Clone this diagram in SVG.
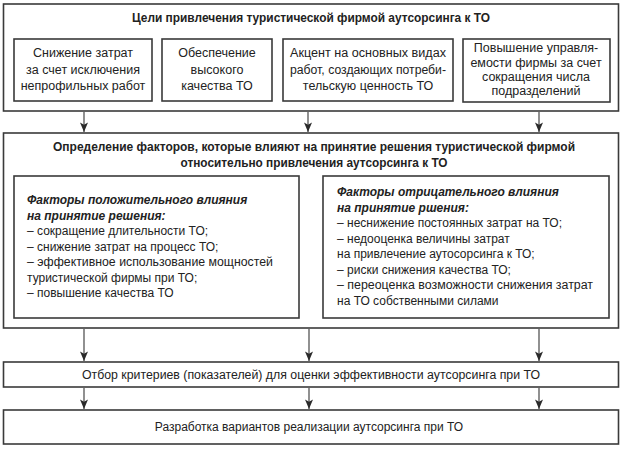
<svg xmlns="http://www.w3.org/2000/svg" width="624" height="451" viewBox="0 0 624 451">
<defs>
<marker id="ah" viewBox="0 0 12 10" refX="12" refY="5" markerWidth="11" markerHeight="8" markerUnits="userSpaceOnUse" orient="auto">
<path d="M0,0 L12,5 L0,10 L3,5 Z" fill="#2a2a2a"/>
</marker>
</defs>
<style>
.box{fill:#fff;stroke:#3a3a3a;stroke-width:1.6}
.t{font-family:"Liberation Sans",Arial,sans-serif;font-size:12px;fill:#222}
.m{font-size:12.5px}
.c{text-anchor:middle}
.b{font-weight:bold}
.i{font-weight:bold;font-style:italic}
.conn{stroke:#555;stroke-width:1.3;fill:none;marker-end:url(#ah)}
</style>
<rect width="624" height="451" fill="#fff"/>
<g id="goals">
<rect class="box" x="3.5" y="4" width="615" height="107"/>
<text class="t c b" x="311" y="22" textLength="358" lengthAdjust="spacingAndGlyphs">Цели привлечения туристической фирмой аутсорсинга к ТО</text>
</g>
<g id="goal1">
<rect class="box" x="14" y="39" width="138" height="62"/>
<text class="t m c" x="83" y="57">Снижение затрат</text>
<text class="t m c" x="83" y="74">за счет исключения</text>
<text class="t m c" x="83" y="90">непрофильных работ</text>
</g>
<g id="goal2">
<rect class="box" x="162" y="39" width="110" height="62"/>
<text class="t m c" x="217" y="57">Обеспечение</text>
<text class="t m c" x="217" y="74">высокого</text>
<text class="t m c" x="217" y="90">качества ТО</text>
</g>
<g id="goal3">
<rect class="box" x="283" y="39" width="170" height="62"/>
<text class="t m c" x="368" y="57" textLength="156" lengthAdjust="spacingAndGlyphs">Акцент на основных видах</text>
<text class="t m c" x="368" y="74" textLength="156" lengthAdjust="spacingAndGlyphs">работ, создающих потреби-</text>
<text class="t m c" x="368" y="90">тельскую ценность ТО</text>
</g>
<g id="goal4">
<rect class="box" x="463" y="39" width="147" height="63"/>
<text class="t m c" x="536" y="52">Повышение управля-</text>
<text class="t m c" x="536" y="67">емости фирмы за счет</text>
<text class="t m c" x="536" y="81">сокращения числа</text>
<text class="t m c" x="536" y="95">подразделений</text>
</g>
<g id="factors">
<rect class="box" x="3.5" y="133" width="615" height="195"/>
<text class="t c b" x="314" y="151" textLength="522" lengthAdjust="spacingAndGlyphs">Определение факторов, которые влияют на принятие решения туристической фирмой</text>
<text class="t c b" x="314" y="167" textLength="267" lengthAdjust="spacingAndGlyphs">относительно привлечения аутсорсинга к ТО</text>
</g>
<g id="positive">
<rect class="box" x="14" y="176" width="285" height="142"/>
<text class="t i" x="27" y="204">Факторы положительного влияния</text>
<text class="t i" x="27" y="219.5">на принятие решения:</text>
<text class="t" x="27" y="235">– сокращение длительности ТО;</text>
<text class="t" x="27" y="250.5">– снижение затрат на процесс ТО;</text>
<text class="t" x="27" y="266" textLength="246" lengthAdjust="spacingAndGlyphs">– эффективное использование мощностей</text>
<text class="t" x="27" y="281.5">туристической фирмы при ТО;</text>
<text class="t" x="27" y="297">– повышение качества ТО</text>
</g>
<g id="negative">
<rect class="box" x="323" y="176" width="286" height="142"/>
<text class="t i" x="337" y="196">Факторы отрицательного влияния</text>
<text class="t i" x="337" y="211.5">на принятие ршения:</text>
<text class="t" x="337" y="227">– неснижение постоянных затрат на ТО;</text>
<text class="t" x="337" y="242.5">– недооценка величины затрат</text>
<text class="t" x="337" y="258">на привлечение аутосорсинга к ТО;</text>
<text class="t" x="337" y="273.5">– риски снижения качества ТО;</text>
<text class="t" x="337" y="289" textLength="256" lengthAdjust="spacingAndGlyphs">– переоценка возможности снижения затрат</text>
<text class="t" x="337" y="304.5">на ТО собственными силами</text>
</g>
<g id="criteria">
<rect class="box" x="3.5" y="362" width="615" height="25"/>
<text class="t c" x="311" y="378.5" textLength="458" lengthAdjust="spacingAndGlyphs">Отбор критериев (показателей) для оценки эффективности аутсорсинга при ТО</text>
</g>
<g id="variants">
<rect class="box" x="3.5" y="410" width="615" height="34"/>
<text class="t c" x="309" y="431">Разработка вариантов реализации аутсорсинга при ТО</text>
</g>
<g id="connectors">
<line class="conn" x1="84" y1="112" x2="84" y2="132"/>
<line class="conn" x1="308" y1="112" x2="308" y2="132"/>
<line class="conn" x1="539" y1="112" x2="539" y2="132"/>
<line class="conn" x1="84" y1="329" x2="84" y2="361"/>
<line class="conn" x1="309" y1="329" x2="309" y2="361"/>
<line class="conn" x1="539" y1="329" x2="539" y2="361"/>
<line class="conn" x1="84" y1="388" x2="84" y2="409"/>
<line class="conn" x1="309" y1="388" x2="309" y2="409"/>
<line class="conn" x1="539" y1="388" x2="539" y2="409"/>
</g>
</svg>
